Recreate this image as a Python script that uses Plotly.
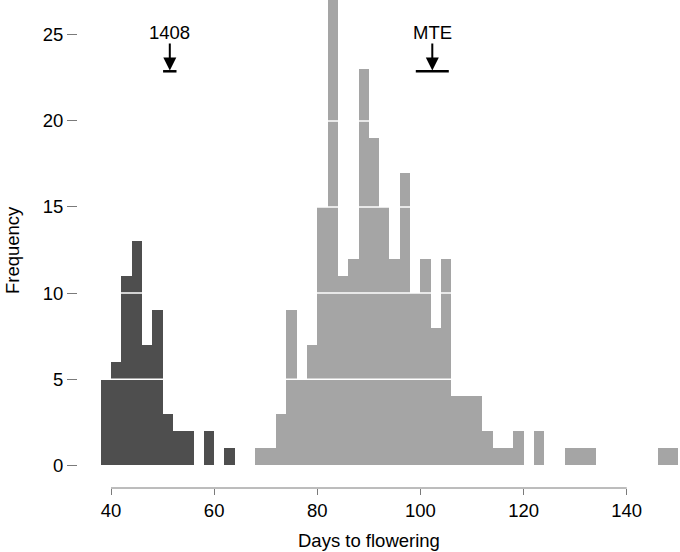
import plotly.graph_objects as go

# Histogram bins (left edges, 2-day bins) and counts
bin_width = 2
dark_bin_starts = [38, 40, 42, 44, 46, 48, 50, 52, 54, 56, 58, 60, 62]
dark_counts     = [5, 6, 11, 13, 7, 9, 3, 2, 2, 0, 2, 0, 1]

light_bin_starts = list(range(68, 150, 2))
light_counts = [1, 1, 3, 9, 5, 7, 15, 27, 11, 12, 23, 19, 15, 12, 17, 10, 12, 8, 12,
                4, 4, 4, 2, 1, 1, 2, 0, 2, 0, 0, 1, 1, 1, 0, 0, 0, 0, 0, 0, 1, 1]

# Parental means with spread (arrows + horizontal bars)
parent_labels = ["1408", "MTE"]
parent_means = [51.4, 102.3]
parent_spread = [1.3, 3.2]

x_ticks = [40, 60, 80, 100, 120, 140]
y_ticks = [0, 5, 10, 15, 20, 25]
white_lines = [5, 10, 15, 20]

DARK = "#4e4e4e"
LIGHT = "#a5a5a5"
AXIS = "#7a7a7a"
FONT = "Liberation Sans, Arial, sans-serif"
FS = 18.5

fig = go.Figure()
fig.add_trace(go.Bar(
    x=[s + bin_width / 2 for s in dark_bin_starts], y=dark_counts, width=bin_width,
    marker=dict(color=DARK, line=dict(width=0)), showlegend=False, hoverinfo="x+y"))
fig.add_trace(go.Bar(
    x=[s + bin_width / 2 for s in light_bin_starts], y=light_counts, width=bin_width,
    marker=dict(color=LIGHT, line=dict(width=0)), showlegend=False, hoverinfo="x+y"))

bar_y = 22.88
fig.add_trace(go.Scatter(
    x=parent_means, y=[bar_y] * len(parent_means), mode="markers",
    marker=dict(size=1, color="rgba(0,0,0,0)"),
    error_x=dict(type="data", array=parent_spread, color="black", thickness=2.5, width=0),
    showlegend=False, hoverinfo="skip"))

shapes = []
for v in white_lines:
    shapes.append(dict(type="line", xref="paper", x0=0, x1=1, yref="y", y0=v, y1=v,
                       line=dict(color="white", width=1.5), layer="above"))
shapes.append(dict(type="line", xref="x", x0=min(x_ticks), x1=max(x_ticks),
                   yref="paper", y0=0, y1=0, line=dict(color=AXIS, width=1)))

annotations = []
for lab, m in zip(parent_labels, parent_means):
    annotations.append(dict(x=m, y=25.16, xref="x", yref="y", text=lab, showarrow=False,
                            font=dict(size=FS, color="black", family=FONT)))
    annotations.append(dict(x=m, y=bar_y + 0.05, xref="x", yref="y", text="",
                            showarrow=True, axref="x", ayref="y", ax=m, ay=24.58,
                            arrowhead=2, arrowsize=1.3, arrowwidth=2, arrowcolor="black"))
annotations.append(dict(x=(min(x_ticks) + max(x_ticks)) / 2, y=-0.107, xref="x", yref="paper",
                        text="Days to flowering", showarrow=False, yanchor="middle",
                        font=dict(size=FS, color="black", family=FONT)))
annotations.append(dict(x=-0.1096, y=(min(y_ticks) + max(y_ticks)) / 2, xref="paper", yref="y",
                        text="Frequency", showarrow=False, textangle=-90,
                        xanchor="center", yanchor="middle",
                        font=dict(size=FS, color="black", family=FONT)))

fig.update_layout(
    width=680, height=552,
    margin=dict(l=78, r=0, t=0, b=64),
    paper_bgcolor="white", plot_bgcolor="white",
    barmode="overlay", bargap=0,
    font=dict(family=FONT, size=FS, color="black"),
    shapes=shapes, annotations=annotations,
    xaxis=dict(range=[33.60, 150.33], tickvals=x_ticks, ticks="outside", ticklen=6,
               tickcolor=AXIS, tickwidth=1, showline=False, showgrid=False, zeroline=False,
               tickfont=dict(size=FS, color="black")),
    yaxis=dict(range=[-1.32, 27.02], tickvals=y_ticks, ticks="outside", ticklen=10,
               tickcolor=AXIS, tickwidth=1, showline=False, showgrid=False, zeroline=False,
               tickfont=dict(size=FS, color="black")),
)

fig.write_html("out.html", config={"displayModeBar": False},
               post_script="document.body.style.margin='0';")
